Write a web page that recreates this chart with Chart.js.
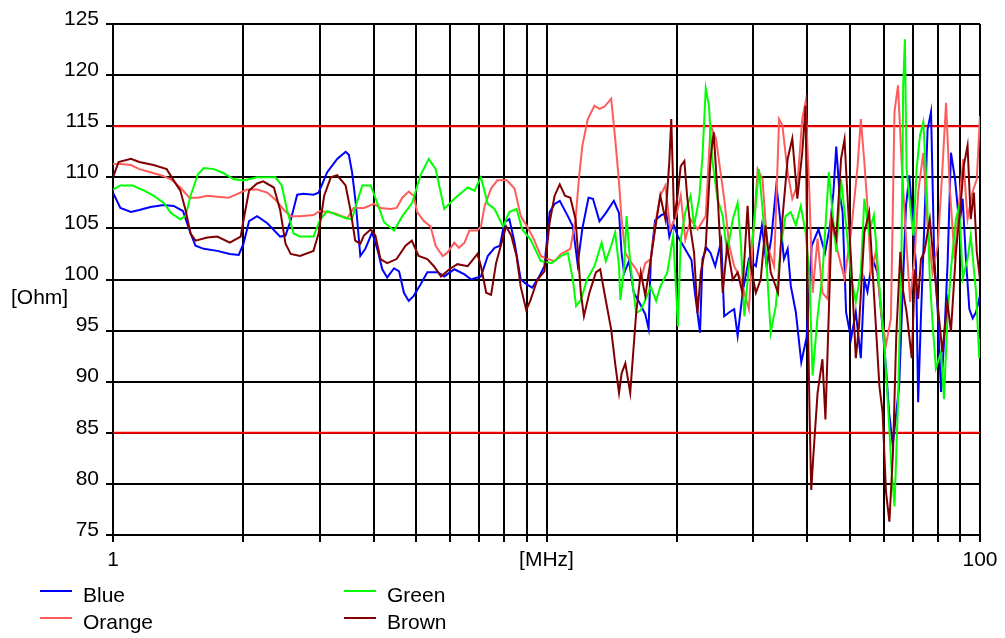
<!DOCTYPE html>
<html>
<head>
<meta charset="utf-8">
<title>Impedance vs frequency</title>
<script src="https://cdn.jsdelivr.net/npm/chart.js@4.4.1/dist/chart.umd.min.js"></script>
<style>
  html, body { margin: 0; padding: 0; background: #fff; }
  #wrap { width: 1005px; height: 638px; }
</style>
</head>
<body>
<div id="wrap"><canvas id="chart" width="1005" height="638"></canvas></div>
<script>
// frequency grid (MHz) and the few labels shown under it
const xTickValues = [1, 2, 3, 4, 5, 6, 7, 8, 9, 10, 20, 30, 40, 50, 60, 70, 80, 90, 100];
const xTickText = ['1', '', '', '', '', '', '', '', '', '[MHz]', '', '', '', '', '', '', '', '', '100'];
const yMin = 75, yMax = 125, yStep = 5;
const limitHigh = 115;
const limitLow = 85;

// [MHz, Ohm]
const blue = [
  [1.00,108.5],[1.04,107.0],[1.10,106.6],[1.15,106.8],[1.22,107.1],[1.31,107.3],[1.38,107.2],[1.45,106.7],[1.51,104.5],[1.55,103.3],
  [1.62,103.0],[1.74,102.8],[1.86,102.5],[1.95,102.4],[2.00,103.5],[2.06,105.7],[2.15,106.2],[2.27,105.5],[2.43,104.2],[2.50,104.3],
  [2.57,105.8],[2.66,108.3],[2.75,108.4],[2.90,108.3],[2.98,108.5],[3.12,110.5],[3.29,111.8],[3.44,112.5],[3.50,112.2],[3.56,110.5],
  [3.63,107.5],[3.72,102.3],[3.82,103.0],[3.96,104.6],[4.07,103.0],[4.18,101.0],[4.29,100.2],[4.45,101.1],[4.57,100.8],[4.69,98.7],
  [4.81,97.9],[4.94,98.4],[5.12,99.5],[5.31,100.7],[5.61,100.7],[5.81,100.3],[6.13,101.0],[6.47,100.5],[6.70,100.0],[7.06,100.3],
  [7.32,102.3],[7.59,103.1],[7.81,103.3],[8.00,105.6],[8.21,105.9],[8.44,103.6],[8.72,100.0],[9.02,99.5],[9.27,99.2],[9.62,100.3],
  [9.89,101.3],[10.17,106.6],[10.44,107.4],[10.73,107.7],[11.2,106.2],[11.5,105.2],[11.8,101.5],[12.1,105.0],[12.5,108.0],[12.8,107.9],
  [13.25,105.7],[13.7,106.5],[14.3,107.7],[14.7,106.5],[14.9,102.6],[15.1,100.6],[15.5,101.8],[15.9,98.7],[16.4,97.7],[16.9,96.6],
  [17.2,95.2],[17.4,101.9],[17.8,105.8],[18.4,106.3],[18.9,106.5],[19.2,104.2],[19.6,105.5],[20.1,104.2],[20.8,103.1],[21.6,101.9],
  [22.0,98.7],[22.6,94.8],[22.9,102.0],[23.4,103.1],[23.9,102.6],[24.5,101.3],[25.3,103.8],[25.7,96.4],[26.4,96.8],[27.1,97.1],
  [27.6,94.5],[28.4,99.0],[29.3,102.0],[30.4,101.3],[31.4,105.3],[32.2,101.3],[33.0,104.0],[33.9,109.2],[34.4,106.9],[35.3,102.0],
  [36.0,103.0],[36.6,99.4],[37.6,96.8],[38.7,91.9],[39.8,94.3],[40.9,103.3],[42.4,104.9],[43.9,102.6],[45.1,105.3],[45.9,108.5],
  [46.6,113.0],[47.4,108.5],[48.2,106.6],[49.1,96.8],[50.4,94.2],[51.7,96.8],[53.1,92.3],[54.1,100.0],[55.0,98.8],[56.5,102.0],
  [58.0,100.7],[59.1,97.1],[60.7,91.3],[61.7,87.0],[62.9,83.8],[64.0,86.7],[65.1,89.6],[66.3,98.8],[67.5,107.2],[68.7,110.2],
  [69.9,105.9],[71.2,101.4],[72.0,88.0],[73.1,96.5],[74.4,105.3],[75.7,114.7],[77.1,116.4],[78.4,102.3],[79.9,96.8],[81.3,89.0],
  [82.7,94.2],[84.2,101.7],[85.7,112.4],[87.6,109.8],[89.6,105.3],[91.2,107.9],[92.8,102.0],[94.5,97.1],[96.2,96.2],[97.9,96.8],
  [100,98.4]
];

const orange = [
  [1.00,111.3],[1.04,111.3],[1.10,111.2],[1.15,110.8],[1.22,110.5],[1.31,110.1],[1.36,109.8],[1.43,109.0],[1.50,108.0],[1.57,108.0],
  [1.65,108.2],[1.74,108.1],[1.85,108.0],[1.92,108.3],[2.04,108.8],[2.15,108.8],[2.27,108.5],[2.37,107.8],[2.48,106.8],[2.57,106.2],
  [2.70,106.2],[2.90,106.3],[3.00,106.7],[3.23,106.5],[3.47,106.0],[3.59,107.0],[3.79,107.0],[4.00,107.4],[4.14,107.0],[4.37,106.9],
  [4.51,107.0],[4.65,108.0],[4.81,108.6],[4.94,108.2],[5.03,106.6],[5.22,105.7],[5.40,105.2],[5.55,103.3],[5.76,102.3],[5.90,102.6],
  [6.13,103.6],[6.28,103.1],[6.47,103.6],[6.64,104.8],[6.93,104.8],[7.06,105.2],[7.20,107.2],[7.45,108.9],[7.70,109.7],[8.10,109.7],
  [8.44,108.9],[8.72,106.2],[9.02,105.2],[9.36,103.9],[9.70,102.3],[10.07,102.0],[10.44,101.8],[10.8,102.5],[11.35,103.0],[11.67,105.9],
  [11.9,110.2],[12.1,113.1],[12.45,115.7],[12.9,117.0],[13.25,116.7],[13.6,116.9],[14.1,117.7],[14.4,113.8],[14.7,109.5],[14.9,105.9],
  [15.2,102.6],[15.6,101.8],[16.1,101.0],[16.5,100.0],[16.9,101.6],[17.4,102.0],[17.9,105.9],[18.3,108.2],[18.8,109.2],[19.3,104.9],
  [19.9,106.2],[20.4,108.2],[20.9,103.9],[21.5,105.9],[22.3,104.9],[23.3,106.2],[23.9,115.1],[24.6,113.8],[25.2,110.5],[25.7,107.9],
  [26.4,103.3],[27.1,101.3],[27.8,100.4],[28.6,98.7],[29.3,97.1],[30.1,105.3],[30.7,110.8],[31.5,109.8],[32.3,103.3],[33.5,101.3],
  [34.4,115.7],[35.0,115.1],[36.0,110.5],[36.9,107.9],[37.9,109.2],[38.9,115.7],[39.6,117.4],[40.4,108.5],[41.1,98.7],[42.2,104.0],
  [43.3,98.7],[44.5,98.1],[45.3,105.9],[47.0,102.7],[48.7,100.1],[50.4,104.6],[52.2,111.1],[53.1,115.7],[54.1,111.5],[55.0,107.2],
  [56.0,100.7],[57.5,102.7],[59.1,96.8],[60.7,93.6],[62.3,96.2],[63.5,116.4],[64.7,119.0],[65.9,111.8],[67.1,105.9],[69.0,97.8],
  [70.8,102.7],[72.0,108.5],[74.0,112.4],[75.7,105.3],[77.7,100.7],[79.9,103.3],[81.9,110.8],[83.5,117.3],[85.1,109.2],[87.4,102.0],
  [89.9,108.5],[91.5,111.8],[93.6,105.9],[96.0,108.5],[98.3,109.8],[100,116.0]
];

const green = [
  [1.00,108.8],[1.04,109.2],[1.11,109.2],[1.18,108.7],[1.24,108.2],[1.31,107.5],[1.36,106.5],[1.43,105.9],[1.47,106.2],[1.51,108.2],
  [1.57,110.3],[1.62,110.9],[1.71,110.8],[1.80,110.4],[1.90,109.8],[2.00,109.7],[2.15,110.0],[2.37,110.0],[2.45,109.2],[2.52,106.8],
  [2.61,104.5],[2.70,104.2],[2.90,104.2],[3.00,105.8],[3.12,106.7],[3.29,106.3],[3.45,106.0],[3.56,105.9],[3.63,107.2],[3.76,109.2],
  [3.93,109.2],[4.07,107.5],[4.22,105.6],[4.45,104.8],[4.65,106.2],[4.90,107.5],[5.12,110.2],[5.35,111.8],[5.55,110.8],[5.81,106.9],
  [6.13,107.9],[6.58,109.0],[6.82,108.7],[7.06,110.0],[7.32,107.4],[7.59,106.9],[7.94,105.2],[8.21,106.6],[8.53,106.9],[8.79,104.9],
  [9.19,103.9],[9.70,101.8],[10.27,101.6],[10.8,102.3],[11.2,102.6],[11.5,100.0],[11.7,97.4],[12.0,98.0],[12.4,100.0],[12.9,101.3],
  [13.4,103.6],[13.7,101.8],[14.1,103.3],[14.4,104.6],[14.7,101.3],[14.8,98.0],[15.1,101.0],[15.3,106.2],[15.6,101.6],[16.1,96.7],
  [16.5,97.0],[16.9,98.0],[17.4,99.3],[17.9,97.9],[18.3,99.3],[19.0,100.7],[19.6,104.3],[20.1,95.4],[20.4,103.9],[20.9,106.6],
  [21.5,108.2],[21.9,105.3],[22.5,107.9],[22.9,112.1],[23.3,118.7],[23.7,117.0],[24.1,111.8],[24.8,107.9],[25.5,106.2],[26.1,102.6],
  [26.9,105.9],[27.6,107.5],[28.1,103.3],[28.6,96.4],[29.3,101.3],[30.1,105.3],[30.9,110.8],[31.5,106.9],[32.0,103.3],[32.9,94.8],
  [33.8,97.4],[34.7,103.3],[35.6,106.2],[36.6,106.6],[37.6,105.3],[38.6,107.2],[39.6,104.6],[40.4,100.4],[41.1,90.6],[42.2,96.4],
  [43.3,100.4],[44.8,110.5],[45.6,106.9],[46.6,102.7],[47.8,109.8],[49.1,105.3],[50.4,100.4],[51.7,97.8],[53.1,100.7],[54.1,107.9],
  [55.5,104.6],[56.9,106.3],[58.6,99.4],[60.3,92.9],[61.3,88.0],[62.5,81.5],[63.5,77.8],[64.7,88.0],[65.9,102.7],[66.5,119.0],
  [67.1,123.5],[67.7,110.8],[69.0,107.2],[70.2,104.3],[71.4,110.8],[72.7,114.1],[74.0,115.4],[75.3,109.2],[76.6,100.1],[77.8,95.5],
  [79.1,91.3],[81.3,92.9],[82.6,88.3],[84.1,96.2],[85.7,101.0],[88.0,105.9],[89.6,107.2],[91.2,100.1],[93.6,102.0],[95.2,104.3],
  [97.9,98.8],[99.6,92.3],[100,94.2]
];

const brown = [
  [1.00,110.0],[1.03,111.5],[1.10,111.8],[1.15,111.5],[1.24,111.2],[1.33,110.8],[1.38,109.7],[1.43,108.7],[1.47,106.8],[1.51,104.5],
  [1.55,103.8],[1.65,104.1],[1.74,104.2],[1.86,103.6],[1.97,104.2],[2.00,105.8],[2.06,108.7],[2.15,109.4],[2.22,109.6],[2.35,109.0],
  [2.43,106.8],[2.50,103.5],[2.57,102.5],[2.70,102.3],[2.90,102.8],[2.98,104.5],[3.07,108.2],[3.18,110.0],[3.29,110.2],[3.44,109.2],
  [3.53,106.8],[3.62,103.8],[3.72,103.5],[3.79,104.3],[3.93,104.9],[4.03,104.3],[4.14,102.0],[4.29,101.6],[4.51,102.0],[4.73,103.3],
  [4.89,103.8],[5.07,102.3],[5.31,102.0],[5.50,101.3],[5.71,100.3],[5.97,101.0],[6.23,101.5],[6.58,101.3],[6.93,102.5],[7.06,101.3],
  [7.26,98.7],[7.45,98.5],[7.65,101.6],[7.88,103.6],[8.07,105.2],[8.29,104.3],[8.53,102.3],[8.72,99.3],[8.98,97.0],[9.19,98.0],
  [9.53,100.0],[9.89,100.8],[10.17,105.6],[10.44,108.2],[10.73,109.3],[11.03,108.2],[11.35,108.0],[11.67,105.9],[12.0,98.7],[12.2,96.4],
  [12.56,98.7],[13.0,100.7],[13.3,101.0],[13.6,98.7],[14.1,95.1],[14.4,91.8],[14.7,88.9],[14.9,90.8],[15.2,91.8],[15.6,88.9],
  [16.1,96.7],[16.5,100.7],[16.9,98.4],[17.4,102.0],[17.9,105.6],[18.3,108.2],[18.8,105.9],[19.2,111.5],[19.4,115.7],[19.7,105.9],
  [20.1,108.5],[20.4,111.1],[20.8,111.6],[21.1,108.2],[21.5,104.9],[21.9,102.6],[22.3,96.7],[22.7,100.7],[23.3,103.3],[23.9,111.8],
  [24.3,114.4],[24.8,108.5],[25.5,98.7],[26.1,103.3],[26.9,100.0],[27.6,100.7],[28.3,98.7],[29.1,107.2],[29.6,101.3],[30.4,98.7],
  [31.2,100.0],[32.0,105.3],[32.9,100.7],[34.2,98.7],[35.0,105.9],[36.0,111.8],[36.9,113.8],[37.9,107.9],[38.9,112.4],[39.6,117.0],
  [40.1,95.5],[40.5,85.7],[40.8,79.4],[41.3,83.0],[42.2,88.9],[43.3,92.2],[44.0,86.3],[44.7,95.5],[45.5,105.9],[46.6,104.0],
  [47.8,111.8],[48.7,113.7],[49.5,107.9],[50.4,102.0],[51.7,92.3],[52.6,95.5],[54.1,104.6],[55.5,106.6],[56.9,98.8],[58.6,89.6],
  [59.6,87.0],[60.7,79.2],[61.8,76.3],[63.0,83.1],[64.1,94.5],[65.5,102.7],[66.5,98.8],[67.7,96.8],[69.6,92.3],[70.8,101.0],
  [72.0,98.1],[73.1,102.0],[74.4,102.7],[76.6,105.9],[77.8,102.7],[79.9,97.5],[81.9,92.9],[84.1,97.8],[85.7,94.9],[88.0,102.7],
  [90.2,107.2],[91.7,111.1],[93.6,113.1],[95.2,105.9],[96.8,108.5],[98.3,102.7],[100,100.0]
];

const FONT = '"Liberation Sans", Arial, sans-serif';

function toPoints(arr) {
  return arr.map(p => ({ x: p[0], y: p[1] }));
}

function series(label, arr, color, order) {
  return {
    label: label,
    data: toPoints(arr),
    borderColor: color,
    backgroundColor: color,
    borderWidth: 2,
    pointRadius: 0,
    tension: 0,
    order: order
  };
}

function limitLine(value) {
  return {
    label: 'limit',
    data: [{ x: xTickValues[0], y: value }, { x: xTickValues[xTickValues.length - 1], y: value }],
    borderColor: '#ff0000',
    borderWidth: 2,
    pointRadius: 0,
    order: 10
  };
}

// legend in two columns plus the [Ohm] unit text
const sideText = {
  id: 'sideText',
  afterDraw(chart) {
    const ctx = chart.ctx;
    ctx.save();
    ctx.font = '21px ' + FONT;
    ctx.fillStyle = '#000';
    ctx.textBaseline = 'middle';
    ctx.textAlign = 'left';
    ctx.fillText('[Ohm]', 11, chart.scales.y.getPixelForValue(98.2));

    const items = chart.data.datasets.filter(d => d.label !== 'limit');
    items.forEach((d, i) => {
      const col = Math.floor(i / 2);
      const row = i % 2;
      const lx = 40 + col * 304;
      const ly = 591 + row * 27;
      ctx.strokeStyle = d.borderColor;
      ctx.lineWidth = 2;
      ctx.beginPath();
      ctx.moveTo(lx, ly);
      ctx.lineTo(lx + 32, ly);
      ctx.stroke();
      ctx.fillText(d.label, lx + 43, ly + 5);
    });
    ctx.restore();
  }
};

new Chart(document.getElementById('chart'), {
  type: 'line',
  data: {
    datasets: [
      series('Blue', blue, '#0000ff', 4),
      series('Orange', orange, '#ff5c5c', 3),
      series('Green', green, '#00ff00', 2),
      series('Brown', brown, '#800000', 1),
      limitLine(limitHigh),
      limitLine(limitLow)
    ]
  },
  options: {
    responsive: false,
    animation: false,
    layout: { padding: { left: 0, right: 25, top: 24, bottom: 63 } },
    plugins: {
      legend: { display: false },
      tooltip: { enabled: false }
    },
    scales: {
      x: {
        type: 'logarithmic',
        min: xTickValues[0],
        max: xTickValues[xTickValues.length - 1],
        afterBuildTicks: (scale) => {
          scale.ticks = xTickValues.map(v => ({ value: v }));
        },
        afterFit: (scale) => { scale.height = 40; },
        grid: { color: '#000', lineWidth: 2, tickLength: 7 },
        border: { color: '#000', width: 2 },
        ticks: {
          autoSkip: false,
          maxRotation: 0,
          padding: 6,
          color: '#000',
          font: { family: FONT, size: 21 },
          callback: (value, index) => xTickText[index]
        }
      },
      y: {
        type: 'linear',
        min: yMin,
        max: yMax,
        afterFit: (scale) => { scale.width = 113; },
        grid: { color: '#000', lineWidth: 2, tickLength: 7 },
        border: { color: '#000', width: 2 },
        ticks: {
          stepSize: yStep,
          padding: 7,
          labelOffset: -5,
          color: '#000',
          font: { family: FONT, size: 21 }
        }
      }
    }
  },
  plugins: [sideText]
});
</script>
</body>
</html>
